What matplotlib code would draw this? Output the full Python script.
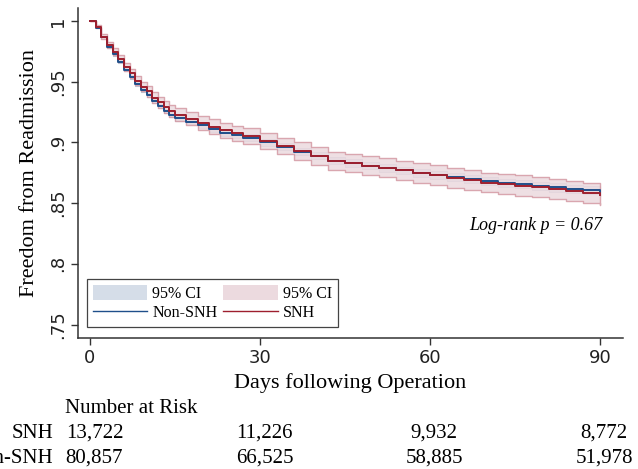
import matplotlib
matplotlib.use("Agg")
import matplotlib.pyplot as plt
import matplotlib.transforms as mtransforms
from matplotlib.patches import Patch
from matplotlib.lines import Line2D
import numpy as np

days = [0, 1, 2, 3, 4, 5, 6, 7, 8, 9, 10, 11, 12, 13, 14, 15,
        17, 19, 21, 23, 25, 27, 30, 33, 36, 39, 42, 45, 48, 51, 54, 57, 60,
        63, 66, 69, 72, 75, 78, 81, 84, 87, 90]

snh_surv = [1.000, 0.9953, 0.987, 0.980, 0.9747, 0.969, 0.9625, 0.957, 0.951, 0.946,
            0.942, 0.937, 0.933, 0.929, 0.926, 0.923,
            0.9195, 0.916, 0.913, 0.910, 0.9075, 0.905, 0.901, 0.897, 0.893, 0.889,
            0.885, 0.883, 0.881, 0.879, 0.877, 0.875, 0.873, 0.871, 0.869, 0.867,
            0.866, 0.8645, 0.863, 0.8615, 0.860, 0.8585, 0.857]
snh_half = [0.0, 0.0012, 0.0019, 0.0023, 0.0027, 0.003, 0.0033, 0.0036, 0.0038, 0.004,
            0.0042, 0.0044, 0.0046, 0.0048, 0.005, 0.0051,
            0.0053, 0.0056, 0.0059, 0.0061, 0.0063, 0.0065, 0.0067, 0.0069, 0.0071, 0.0073,
            0.0075, 0.0076, 0.0077, 0.0078, 0.0079, 0.008, 0.0081, 0.0081, 0.0082, 0.0082,
            0.0082, 0.0083, 0.0083, 0.0083, 0.0084, 0.0084, 0.0084]

non_surv = [1.000, 0.9945, 0.9865, 0.9785, 0.9725, 0.9665, 0.960, 0.954, 0.948, 0.943,
            0.939, 0.934, 0.930, 0.926, 0.923, 0.920,
            0.917, 0.914, 0.911, 0.908, 0.906, 0.904, 0.900, 0.8965, 0.8925, 0.889,
            0.885, 0.883, 0.881, 0.879, 0.877, 0.8752, 0.8735, 0.8717, 0.870, 0.8683,
            0.8668, 0.8655, 0.8642, 0.863, 0.8618, 0.8607, 0.8596]
non_half = [0.0, 0.0005, 0.0008, 0.001, 0.0011, 0.0012, 0.0013, 0.0014, 0.0015, 0.0016,
            0.0017, 0.0018, 0.0019, 0.0019, 0.002, 0.002,
            0.0021, 0.0022, 0.0023, 0.0024, 0.0025, 0.0026, 0.0027, 0.0028, 0.0029, 0.003,
            0.003, 0.0031, 0.0031, 0.0032, 0.0032, 0.0033, 0.0033, 0.0033, 0.0034, 0.0034,
            0.0034, 0.0034, 0.0035, 0.0035, 0.0035, 0.0035, 0.0035]

risk_days = [0, 30, 60, 90]
risk_snh = ["13,722", "11,226", "9,932", "8,772"]
risk_non = ["80,857", "66,525", "58,885", "51,978"]

serif = "Liberation Serif"
sans = "DejaVu Sans"

red = "#9e1f2e"
blue = "#1f4f8a"
pink_fill = "#ecdadf"
pink_edge = "#d49aa4"
blue_fill = "#d5dde8"

W, H = 638, 469
fig = plt.figure(figsize=(W / 100, H / 100), dpi=100)
ax = fig.add_axes([78 / W, 1 - 338 / H, (623 - 78) / W, (338 - 8) / H])

d = np.array(days)
s1, h1 = np.array(snh_surv), np.array(snh_half)
s2, h2 = np.array(non_surv), np.array(non_half)

ax.fill_between(d, s2 - h2, s2 + h2, step="post", facecolor=blue_fill,
                edgecolor="#b8c4d6", linewidth=0.8, zorder=1)
ax.fill_between(d, s1 - h1, s1 + h1, step="post", facecolor=pink_fill,
                edgecolor=pink_edge, linewidth=1.0, alpha=0.85, zorder=2)
ax.step(d, s2, where="post", color=blue, linewidth=1.4, zorder=3)
ax.step(d, s1, where="post", color=red, linewidth=1.4, zorder=4)

ax.set_xlim(-2.1, 94.1)
ax.set_ylim(0.739, 1.0107)
ax.set_xticks([0, 30, 60, 90])
ax.set_yticks([0.75, 0.8, 0.85, 0.9, 0.95, 1.0])
ax.set_yticklabels([".75", ".8", ".85", ".9", ".95", "1"], rotation=90, va="center")
for lab in ax.get_xticklabels() + ax.get_yticklabels():
    lab.set_fontfamily(sans)
    lab.set_fontsize(13)
    lab.set_color("#222222")
ax.tick_params(direction="out", length=5, width=1, color="#333333", pad=3)

for side in ["top", "right"]:
    ax.spines[side].set_visible(False)
for side in ["left", "bottom"]:
    ax.spines[side].set_color("#333333")
    ax.spines[side].set_linewidth(1.1)

ax.set_xlabel("Days following Operation", fontfamily=serif, fontsize=16, labelpad=4)
ax.set_ylabel("Freedom from Readmission", fontfamily=serif, fontsize=16, labelpad=7)

fig.text(602 / W, 1 - 225 / H, "Log-rank p = 0.67", fontfamily=serif,
         fontstyle="italic", fontsize=13, ha="right", va="center")

handles = [Patch(facecolor=blue_fill, edgecolor="none"),
           Line2D([], [], color=blue, linewidth=1.0),
           Patch(facecolor=pink_fill, edgecolor="none"),
           Line2D([], [], color=red, linewidth=1.0)]
labels = ["95% CI", "Non-SNH", "95% CI", "SNH"]
leg = ax.legend(handles, labels, ncol=2, loc="lower left",
                bbox_to_anchor=((87 - 78) / 545, (338 - 327) / 330),
                borderaxespad=0, prop={"family": serif, "size": 11.5},
                handlelength=3.4, handleheight=1.1, handletextpad=0.35,
                columnspacing=0.35, labelspacing=0.15, borderpad=0.35,
                fancybox=False, framealpha=1)
leg.get_frame().set_edgecolor("#444444")
leg.get_frame().set_linewidth(0.9)

# number at risk table
fs_risk = 15
fig.text(65 / W, 1 - 408 / H, "Number at Risk", fontfamily=serif, fontsize=fs_risk,
         ha="left", va="center")
fig.text(53 / W, 1 - 433 / H, "SNH", fontfamily=serif, fontsize=fs_risk,
         ha="right", va="center")
fig.text(53 / W, 1 - 458 / H, "Non-SNH", fontfamily=serif, fontsize=fs_risk,
         ha="right", va="center")
trans = mtransforms.blended_transform_factory(ax.transData, fig.transFigure)
for x, a, b in zip(risk_days, risk_snh, risk_non):
    ax.text(x + 0.8, 1 - 433 / H, a, transform=trans, fontfamily=serif, fontsize=fs_risk,
            ha="center", va="center", clip_on=False)
    ax.text(x + 0.8, 1 - 458 / H, b, transform=trans, fontfamily=serif, fontsize=fs_risk,
            ha="center", va="center", clip_on=False)

fig.savefig("out.png", dpi=100)
